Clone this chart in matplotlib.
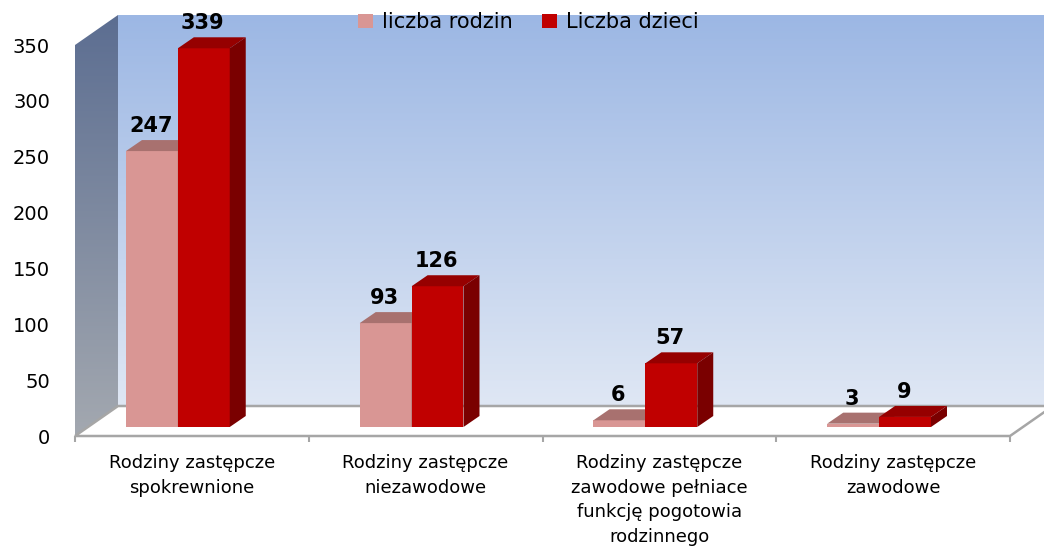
import numpy as np
import matplotlib
matplotlib.use("Agg")
import matplotlib.pyplot as plt
from matplotlib.patches import Polygon, Patch

# ── DATA ─────────────────────────────────────────────────────
categories = [
    "Rodziny zastępcze\nspokrewnione",
    "Rodziny zastępcze\nniezawodowe",
    "Rodziny zastępcze\nzawodowe pełniace\nfunkcję pogotowia\nrodzinnego",
    "Rodziny zastępcze\nzawodowe",
]
liczba_rodzin = [247, 93, 6, 3]
liczba_dzieci = [339, 126, 57, 9]
series_names = ["liczba rodzin", "Liczba dzieci"]
y_ticks = [0, 50, 100, 150, 200, 250, 300, 350]

# ── STYLE ────────────────────────────────────────────────────
W, H = 1044, 547
pink_front, pink_top, pink_side = "#D99694", "#A8716F", "#9C6664"
red_front, red_top, red_side = "#C00000", "#960000", "#7A0000"
edge_grey = "#A6A6A6"
FONT = "DejaVu Sans"

fig = plt.figure(figsize=(W / 100, H / 100), dpi=100)
# front plane of the 3D box, in pixels: x 75..1010, y 436 (0) .. 45 (350)
ax = fig.add_axes([75 / W, (H - 436) / H, 935 / W, 391 / H])
ax.set_xlim(0, 4)
ax.set_ylim(0, 350)

px_x = 4 / 935      # data units per pixel
px_y = 350 / 391
DX, DY = 43 * px_x, 30 * px_y       # depth of the box
ddx, ddy = 16 * px_x, 11 * px_y     # depth of each bar
bar_base = 9 * px_y
bar_w = 0.222

# back wall with vertical gradient
top_c = np.array([0.612, 0.718, 0.894])
bot_c = np.array([0.875, 0.906, 0.957])
t = np.linspace(0, 1, 256)[:, None]
grad = top_c * (1 - t) + bot_c * t
im = ax.imshow(grad[:, None, :], extent=[DX, 4 + DX + 0.1, DY, 350 + DY],
               aspect="auto", zorder=0, origin="upper", interpolation="bilinear")
im.set_clip_on(False)

# left wall, clipped to its parallelogram
lw_top = np.array([0.36, 0.43, 0.57])
lw_bot = np.array([0.64, 0.66, 0.69])
grad2 = lw_top * (1 - t) + lw_bot * t
left_poly = Polygon([(0, 0), (DX, DY), (DX, 350 + DY), (0, 350)],
                    closed=True, transform=ax.transData)
im2 = ax.imshow(grad2[:, None, :], extent=[0, DX, 0, 350 + DY],
                aspect="auto", zorder=0.5, origin="upper", interpolation="bilinear")
im2.set_clip_path(left_poly)
im2.set_clip_box(fig.bbox)

# floor
floor = Polygon([(0, 0), (4, 0), (4 + DX, DY), (DX, DY)], closed=True,
                facecolor="white", edgecolor=edge_grey, lw=1.8, zorder=1,
                clip_on=False, joinstyle="miter")
ax.add_patch(floor)

ax.set_xlim(0, 4)
ax.set_ylim(0, 350)


def draw_bar(x0, v, front, top, side):
    y0 = bar_base
    y1 = bar_base + v
    ax.bar(x0, v, width=bar_w, bottom=y0, align="edge", color=front,
           zorder=3, clip_on=False, linewidth=0)
    ax.add_patch(Polygon([(x0, y1), (x0 + bar_w, y1), (x0 + bar_w + ddx, y1 + ddy),
                          (x0 + ddx, y1 + ddy)], closed=True, facecolor=top,
                         edgecolor="none", zorder=3, clip_on=False))
    ax.add_patch(Polygon([(x0 + bar_w, y0), (x0 + bar_w, y1), (x0 + bar_w + ddx, y1 + ddy),
                          (x0 + bar_w + ddx, y0 + ddy)], closed=True, facecolor=side,
                         edgecolor="none", zorder=3, clip_on=False))
    ax.text(x0 + bar_w / 2 - 1 * px_x, y1 + ddy + 4 * px_y, str(v),
            ha="center", va="bottom", fontsize=15, fontweight="bold",
            family="DejaVu Sans", color="black", zorder=5)


for i in range(len(categories)):
    draw_bar(i + 0.218, liczba_rodzin[i], pink_front, pink_top, pink_side)
    draw_bar(i + 0.218 + bar_w, liczba_dzieci[i], red_front, red_top, red_side)

# axes styling
for s in ax.spines.values():
    s.set_visible(False)
ax.set_yticks(y_ticks)
ax.set_yticklabels([str(v) for v in y_ticks], fontsize=14, family="DejaVu Sans")
ax.tick_params(axis="y", length=0, pad=18)
ax.set_xticks([i + 0.5 for i in range(len(categories))])
ax.set_xticklabels(categories, fontsize=13, family=FONT, linespacing=1.47)
ax.tick_params(axis="x", length=0, pad=13)
ax.set_xticks(range(0, 5), minor=True)
ax.tick_params(axis="x", which="minor", length=4, width=1.5, color=edge_grey)
ax.patch.set_visible(False)

# legend
handles = [Patch(facecolor=pink_front, edgecolor="none"),
           Patch(facecolor=red_front, edgecolor="none")]
fig.legend(handles, series_names, loc="center", ncol=2, frameon=False,
           bbox_to_anchor=(528 / W, 1 - 22 / H), prop={"family": FONT, "size": 15},
           handlelength=0.75, handleheight=0.65, handletextpad=0.4, columnspacing=1.4)

fig.savefig("out.png", dpi=100)
